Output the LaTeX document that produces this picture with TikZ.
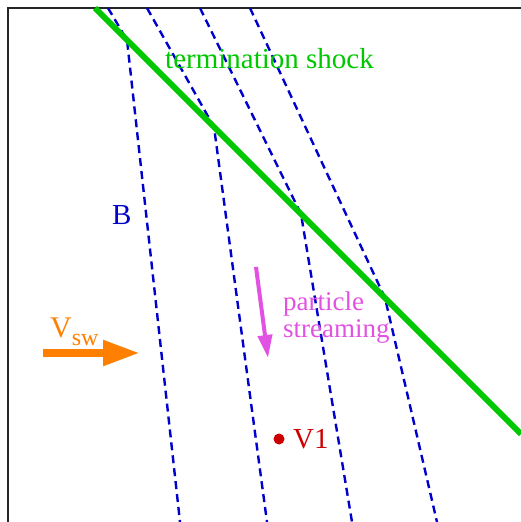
\documentclass[tikz,border=0pt]{standalone}
\usepackage{fontspec}
\setmainfont{Liberation Serif}
\usetikzlibrary{arrows.meta}
\definecolor{fieldblue}{RGB}{0,0,204}
\definecolor{shockgreen}{RGB}{0,200,0}
\definecolor{swor}{RGB}{255,128,0}
\definecolor{streammag}{RGB}{226,82,226}
\definecolor{vred}{RGB}{204,0,0}
\tikzset{
  fieldline/.style={draw=fieldblue, line width=2.4pt, dash pattern=on 8pt off 5pt},
  shockline/.style={draw=shockgreen, line width=6pt},
  lbl/.style={inner sep=0pt, anchor=base west, font=\fontsize{29}{34}\selectfont},
}
\begin{document}
\begin{tikzpicture}[x=1pt,y=-1pt]
\useasboundingbox (0,0) rectangle (521,522);
% frame (left and top edges visible)
\draw[line width=1.5pt, black!85] (8,522) -- (8,8) -- (521,8);
% field lines: upstream top points, kinks on shock, downstream bottom points
\coordinate (t1) at (108,8);  \coordinate (k1) at (127,40);  \coordinate (b1) at (180,522);
\coordinate (t2) at (147,8);  \coordinate (k2) at (214,127); \coordinate (b2) at (267,522);
\coordinate (t3) at (200,8);  \coordinate (k3) at (301,214); \coordinate (b3) at (352,522);
\coordinate (t4) at (250,8);  \coordinate (k4) at (385,298); \coordinate (b4) at (437,522);
\draw[fieldline] (t1) -- (k1) -- (b1);
\draw[fieldline] (t2) -- (k2) -- (b2);
\draw[fieldline] (t3) -- (k3) -- (b3);
\draw[fieldline] (t4) -- (k4) -- (b4);
% termination shock
\coordinate (s1) at (95,8);
\coordinate (s2) at (521,434);
\draw[shockline] (s1) -- (s2);
\node[lbl, text=shockgreen] (ts) at (165,68) {termination shock};
\node[lbl, text=fieldblue] (B) at (112,224) {B};
% solar wind arrow
\coordinate (sw1) at (43,353);
\coordinate (sw2) at (140,353);
\draw[swor, line width=8pt, -{Triangle[length=37pt,width=24pt]}] (sw1) -- (sw2);
\node[lbl, text=swor, font=\fontsize{30}{34}\selectfont] (vsw) at (50,337) {V\raisebox{-8pt}{\fontsize{24}{26}\selectfont sw}};
% particle streaming arrow
\coordinate (ps1) at (256,267);
\coordinate (ps2) at (268,358);
\draw[streammag, line width=4pt, -{Triangle[length=23pt,width=14pt]}] (ps1) -- (ps2);
\node[lbl, text=streammag, font=\fontsize{27}{27}\selectfont, align=left] (pst) at (283,337) {particle\\streaming};
% Voyager 1
\fill[vred] (279,439) circle (5.5pt) coordinate (v1dot);
\node[lbl, text=vred] (v1) at (293,448) {V1};
\end{tikzpicture}
\end{document}
